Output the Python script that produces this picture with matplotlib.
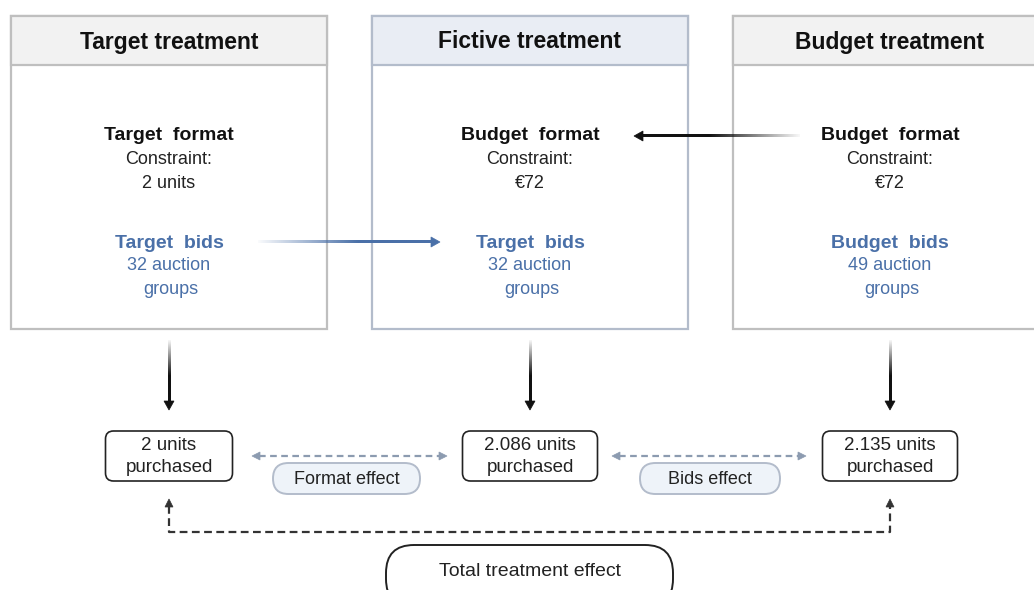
import matplotlib
matplotlib.use("Agg")
import matplotlib.pyplot as plt
import numpy as np
from matplotlib.patches import FancyBboxPatch, Rectangle, Polygon
from matplotlib.colors import to_rgb

plt.rcParams['font.family'] = ['Liberation Sans', 'DejaVu Sans']

# ---- data ----
treatments = ["Target treatment", "Fictive treatment", "Budget treatment"]
formats = ["Target  format", "Budget  format", "Budget  format"]
constraints = ["2 units", "€72", "€72"]
bids = ["Target  bids", "Target  bids", "Budget  bids"]
auction_groups = [32, 32, 49]
units_purchased = ["2", "2.086", "2.135"]
effects = ["Format effect", "Bids effect"]
total_label = "Total treatment effect"

W, H = 1034, 590
fig = plt.figure(figsize=(W / 100, H / 100), dpi=100)
ax = fig.add_axes([0, 0, 1, 1])

centers = [169, 530, 890]
box_left = [11, 372, 733]
box_w = 316
top, head_b, bot = 16, 65, 329
head_fill = ["#f2f2f2", "#e9edf4", "#f2f2f2"]
edge = ["#bfbfbf", "#b3bccb", "#bfbfbf"]
blue = "#4a70a8"

for i in range(3):
    x0 = box_left[i]
    ax.add_patch(Rectangle((x0, top), box_w, bot - top, facecolor="white",
                           edgecolor=edge[i], lw=1.6, zorder=1))
    ax.add_patch(Rectangle((x0, top), box_w, head_b - top, facecolor=head_fill[i],
                           edgecolor=edge[i], lw=1.6, zorder=2))
    c = centers[i]
    ax.text(c, 42, treatments[i], ha='center', va='center', fontsize=16.5,
            fontweight='bold', color='#111111', zorder=3)
    ax.text(c, 136, formats[i], ha='center', va='center', fontsize=14,
            fontweight='bold', color='#111111', zorder=3)
    ax.text(c, 159, "Constraint:", ha='center', va='center', fontsize=13,
            color='#222222', zorder=3)
    ax.text(c, 183, constraints[i], ha='center', va='center', fontsize=13,
            color='#222222', zorder=3)
    ax.text(c, 243, bids[i], ha='center', va='center', fontsize=14,
            fontweight='bold', color=blue, zorder=3)
    ax.text(c, 266, f"{auction_groups[i]} auction", ha='center', va='center',
            fontsize=13, color=blue, zorder=3)
    ax.text(c + 2, 290, "groups", ha='center', va='center', fontsize=13,
            color=blue, zorder=3)


def grad_line(x0, y0, x1, y1, color, lw=2.4, n=200):
    """Line fading from transparent at (x0,y0) to solid at (x1,y1)."""
    rgb = np.array(to_rgb(color))
    t = np.linspace(0, 1, n)
    a = np.clip(0.03 + 1.7 * t, 0, 1)
    if y0 == y1:  # horizontal
        img = np.zeros((1, n, 4))
        img[0, :, :3] = rgb
        img[0, :, 3] = a
        if x1 < x0:
            img = img[:, ::-1]
        ax.imshow(img, extent=[min(x0, x1), max(x0, x1), y0 + lw / 2, y0 - lw / 2],
                  aspect='auto', interpolation='bilinear', zorder=4)
    else:  # vertical
        img = np.zeros((n, 1, 4))
        img[:, 0, :3] = rgb
        img[:, 0, 3] = a
        if y1 < y0:
            img = img[::-1]
        ax.imshow(img, extent=[x0 - lw / 2, x0 + lw / 2, max(y0, y1), min(y0, y1)],
                  origin='lower' if False else 'upper',
                  aspect='auto', interpolation='bilinear', zorder=4)


def head(x, y, direction, color, size=9, width=5):
    dx, dy = direction
    px, py = -dy, dx
    pts = [(x, y), (x - dx * size + px * width, y - dy * size + py * width),
           (x - dx * size - px * width, y - dy * size - py * width)]
    ax.add_patch(Polygon(pts, closed=True, facecolor=color, edgecolor=color, lw=0.5, zorder=5))


# horizontal arrows between boxes
grad_line(258, 242, 432, 242, blue)
head(440, 242, (1, 0), blue)
grad_line(800, 136, 642, 136, "#111111")
head(634, 136, (-1, 0), "#111111")

# vertical arrows to results
for c in centers:
    grad_line(c, 340, c, 402, "#111111", lw=2.6)
    head(c, 410, (0, 1), "#111111")

# result boxes
res_h = 50
for i, c in enumerate(centers):
    w = 127 if i == 0 else 135
    ax.add_patch(FancyBboxPatch((c - w / 2, 431), w, res_h,
                                boxstyle="round,pad=0,rounding_size=8",
                                facecolor="white", edgecolor="#222222", lw=1.2, zorder=3))
    ax.text(c, 446, f"{units_purchased[i]} units", ha='center', va='center',
            fontsize=13.5, color='#222222', zorder=4)
    ax.text(c, 468, "purchased", ha='center', va='center', fontsize=13.5,
            color='#222222', zorder=4)

# dashed grey double arrows + effect pills
grey = "#8c9bb0"
pairs = [(252, 447), (612, 806)]
pill_x = [(273, 420), (640, 780)]
for k, (a, b) in enumerate(pairs):
    ax.plot([a + 7, b - 7], [456, 456], ls=(0, (3, 2)), color=grey, lw=1.6, zorder=3)
    head(a, 456, (-1, 0), grey, size=8, width=4)
    head(b, 456, (1, 0), grey, size=8, width=4)
    x0, x1 = pill_x[k]
    ax.add_patch(FancyBboxPatch((x0, 463), x1 - x0, 31,
                                boxstyle="round,pad=0,rounding_size=15.5",
                                facecolor="#eef3f9", edgecolor="#b3bccb", lw=1.4, zorder=3))
    ax.text((x0 + x1) / 2, 479, effects[k], ha='center', va='center',
            fontsize=13, color='#222222', zorder=4)

# dashed black total effect connector
dk = "#333333"
ax.plot([169, 169, 890, 890], [506, 532, 532, 506], ls=(0, (3.5, 2)), color=dk,
        lw=1.6, zorder=3)
head(169, 499, (0, -1), dk, size=8, width=4)
head(890, 499, (0, -1), dk, size=8, width=4)

# total effect pill (cut at bottom)
ax.add_patch(FancyBboxPatch((386, 545), 287, 62,
                            boxstyle="round,pad=0,rounding_size=28",
                            facecolor="white", edgecolor="#222222", lw=1.4, zorder=3))
ax.text(530, 571, total_label, ha='center', va='center', fontsize=14,
        color='#222222', zorder=4)

ax.set_xlim(0, W)
ax.set_ylim(H, 0)
ax.axis('off')
fig.savefig("out.png", dpi=100)
